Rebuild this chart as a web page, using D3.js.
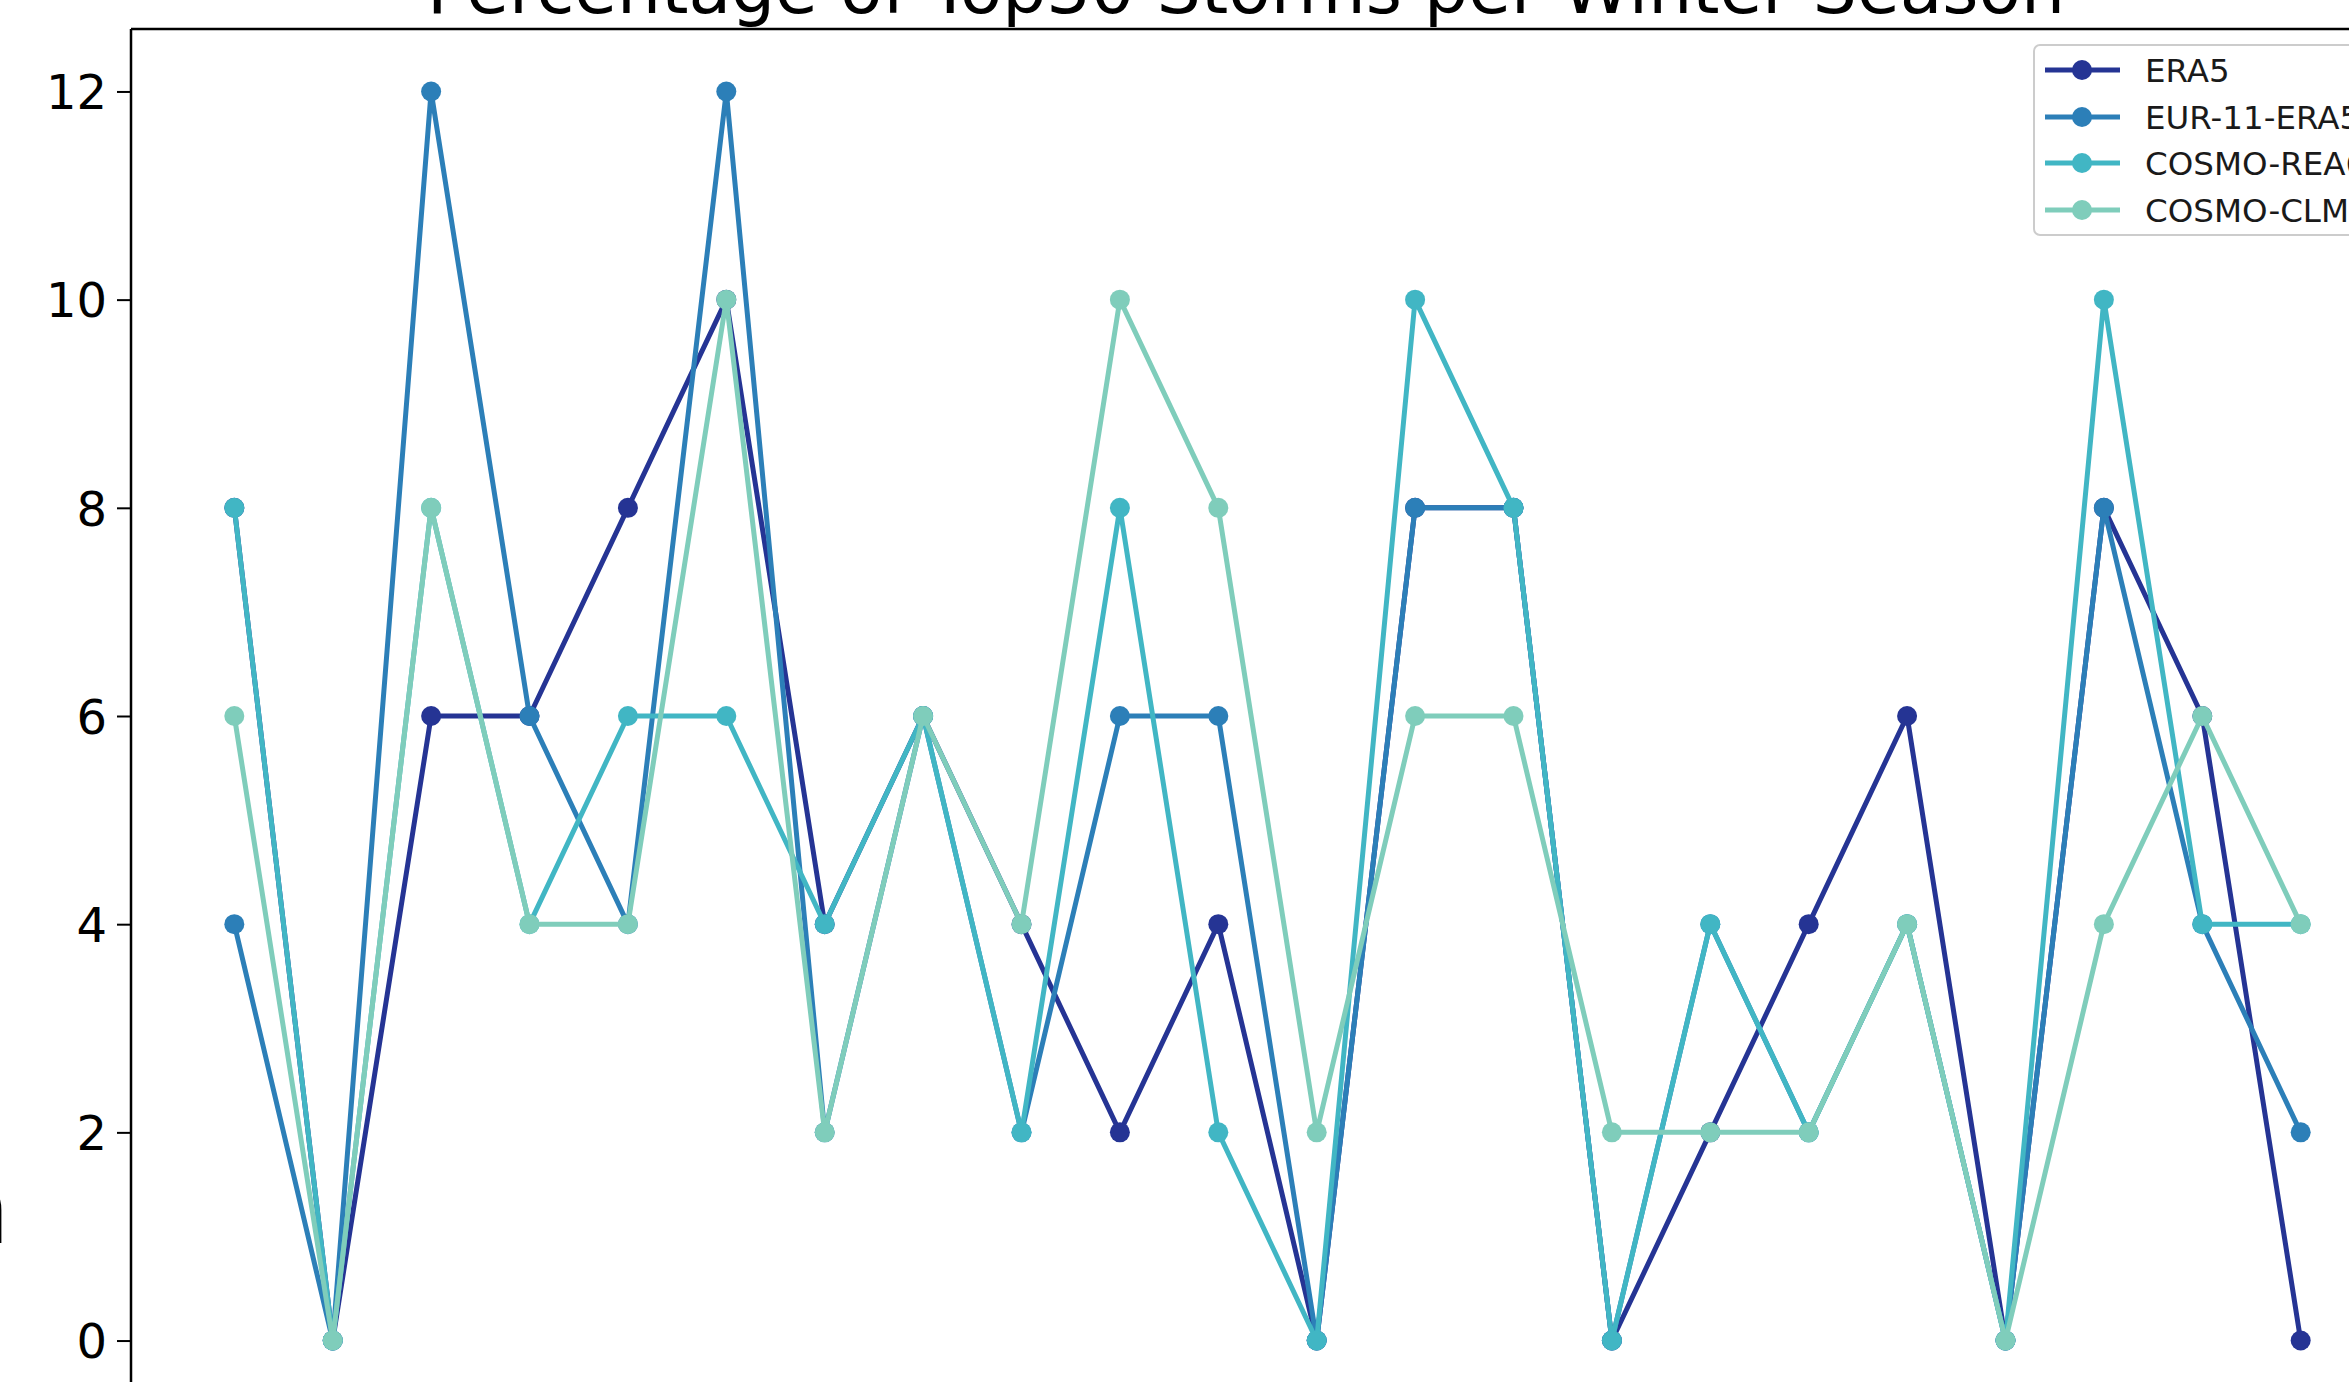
<!DOCTYPE html>
<html>
<head>
<meta charset="utf-8">
<script src="https://cdn.jsdelivr.net/npm/d3@7"></script>
<style>
  html, body { margin: 0; padding: 0; background: #fff; overflow: hidden; }
  svg { display: block; font-family: "DejaVu Sans", sans-serif; }
</style>
</head>
<body>
<svg id="chart" width="2349" height="1382"></svg>
<script>
// ---- data ----
const seasons = d3.range(22); // winter season index
const era5   = [8,0,6,6,8,10,4,6,4,2,4,0,8,8,0,2,4,6,0,8,6,0];
const eur11  = [4,0,12,6,4,12,2,6,2,6,6,0,8,8,0,4,2,4,0,8,4,2];
const rea6   = [8,0,8,4,6,6,4,6,2,8,2,0,10,8,0,4,2,4,0,10,4,4];
const clm    = [6,0,8,4,4,10,2,6,4,10,8,2,6,6,2,2,2,4,0,4,6,4];
const seriesNames = ["ERA5", "EUR-11-ERA5", "COSMO-REA6", "COSMO-CLM"];
const seriesValues = [era5, eur11, rea6, clm];
const yTicks = [0, 2, 4, 6, 8, 10, 12];
const titleText = "Percentage of Top30 Storms per Winter Season";

// ---- styles ----
const colors = ["#253494", "#2c7fb8", "#41b6c4", "#7fcdbb"];
const svg = d3.select("#chart");
const pLeft = 131, pRight = 2404, pTop = 29, pBottom = 1403;

const x = d3.scaleLinear().domain([-1.05, 22.05]).range([pLeft, pRight]);
const y = d3.scaleLinear().domain([-0.6, 12.6]).range([pBottom, pTop]);

// clip
svg.append("defs").append("clipPath").attr("id", "clip")
  .append("rect").attr("x", pLeft).attr("y", pTop).attr("width", pRight - pLeft).attr("height", pBottom - pTop);

const plot = svg.append("g").attr("clip-path", "url(#clip)");
const line = d3.line().x((d, i) => x(seasons[i])).y(d => y(d));

seriesValues.forEach((vals, k) => {
  plot.append("path")
    .datum(vals)
    .attr("d", line)
    .attr("fill", "none")
    .attr("stroke", colors[k])
    .attr("stroke-width", 5)
    .attr("stroke-linejoin", "round");
  plot.selectAll(null)
    .data(vals)
    .enter().append("circle")
    .attr("cx", (d, i) => x(seasons[i]))
    .attr("cy", d => y(d))
    .attr("r", 10)
    .attr("fill", colors[k]);
});

// y axis
const yAxis = d3.axisLeft(y).tickValues(yTicks).tickSize(14).tickPadding(10).tickFormat(d3.format("d"));
const ga = svg.append("g").attr("transform", `translate(${pLeft},0)`).call(yAxis);
ga.select(".domain").remove();
ga.selectAll(".tick line").attr("stroke", "#000").attr("stroke-width", 2);
ga.selectAll(".tick text").attr("font-size", 48).attr("fill", "#000")
  .attr("font-family", "DejaVu Sans").attr("dy", "0.36em");

// spines
svg.append("line").attr("x1", pLeft).attr("x2", pLeft).attr("y1", pTop).attr("y2", pBottom)
  .attr("stroke", "#000").attr("stroke-width", 2.5);
svg.append("line").attr("x1", pLeft).attr("x2", pRight).attr("y1", pTop).attr("y2", pTop)
  .attr("stroke", "#000").attr("stroke-width", 2.5);

// title (cut off at top, as in the reference)
svg.append("text")
  .attr("x", 1246).attr("y", 13)
  .attr("text-anchor", "middle")
  .attr("font-size", 69.5)
  .attr("fill", "#000")
  .text(titleText);

// partial letter at left edge (cut off, as in the reference)
svg.append("text")
  .attr("x", 10).attr("y", 1243)
  .attr("text-anchor", "end")
  .attr("font-size", 100)
  .attr("fill", "#000")
  .text("n");

// legend
const lg = svg.append("g");
lg.append("rect")
  .attr("x", 2034).attr("y", 45).attr("width", 400).attr("height", 190)
  .attr("rx", 6).attr("fill", "#fff").attr("fill-opacity", 0.8)
  .attr("stroke", "#cccccc").attr("stroke-width", 2);
const rowY = [70, 117, 163, 210];
seriesNames.forEach((name, k) => {
  lg.append("line").attr("x1", 2045).attr("x2", 2120).attr("y1", rowY[k]).attr("y2", rowY[k])
    .attr("stroke", colors[k]).attr("stroke-width", 5);
  lg.append("circle").attr("cx", 2082).attr("cy", rowY[k]).attr("r", 10).attr("fill", colors[k]);
  lg.append("text").attr("x", 2145).attr("y", rowY[k]).attr("dy", "0.36em")
    .attr("font-size", 32.5).attr("fill", "#1a1a1a").text(name);
});
</script>
</body>
</html>
